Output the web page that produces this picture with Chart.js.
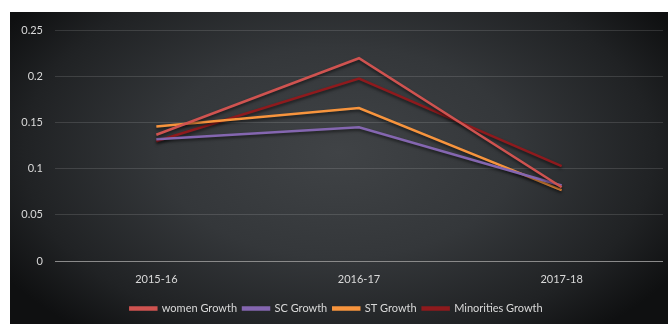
<!DOCTYPE html>
<html>
<head>
<meta charset="utf-8">
<script src="https://cdn.jsdelivr.net/npm/chart.js@4"></script>
<style>
  html, body { margin: 0; padding: 0; background: #fff; }
  #wrap {
    position: absolute; left: 10px; top: 12px; width: 658px; height: 312px;
    background: radial-gradient(ellipse 60% 75% at 50% 45%, #404346 0%, #34373a 45%, #202224 80%, #0f1011 100%);
  }
</style>
</head>
<body>
<div id="wrap"><canvas id="grafico" width="658" height="312"></canvas></div>
<script>
// datos
const periodos = ['2015-16', '2016-17', '2017-18'];
const mujeres = [0.137, 0.220, 0.080];
const sc = [0.132, 0.145, 0.082];
const st = [0.146, 0.166, 0.077];
const minorias = [0.130, 0.198, 0.103];

// sombra suave bajo las lineas
const sombra = {
  id: 'sombra',
  beforeDatasetsDraw(chart) {
    const ctx = chart.ctx;
    ctx.save();
    ctx.shadowColor = 'rgba(0,0,0,0.55)';
    ctx.shadowBlur = 3;
    ctx.shadowOffsetY = 2;
  },
  afterDatasetsDraw(chart) {
    chart.ctx.restore();
  }
};

function serie(label, data, color) {
  return {
    label: label,
    data: data,
    borderColor: color,
    backgroundColor: color,
    borderWidth: 2.5,
    pointRadius: 0,
    tension: 0
  };
}

new Chart(document.getElementById('grafico'), {
  type: 'line',
  data: {
    labels: periodos,
    datasets: [
      serie('women Growth', mujeres, '#cf5350'),
      serie('SC Growth', sc, '#8466b0'),
      serie('ST Growth', st, '#f7943d'),
      serie('Minorities Growth', minorias, '#8e1a1d')
    ]
  },
  options: {
    responsive: false,
    animation: false,
    layout: { padding: { top: 15, right: 5, left: 0, bottom: 0 } },
    plugins: {
      legend: {
        position: 'bottom',
        labels: {
          color: '#d9d9d9',
          font: { family: 'Lato', size: 11 },
          boxWidth: 26,
          boxHeight: 2,
          padding: 6
        }
      },
      tooltip: { enabled: false }
    },
    scales: {
      x: {
        offset: true,
        afterFit(scale) { scale.height = 36; },
        grid: { display: false, drawTicks: false },
        border: { display: false },
        ticks: { color: '#d9d9d9', font: { family: 'Lato', size: 11 }, padding: 12 }
      },
      y: {
        min: 0,
        max: 0.25,
        afterFit(scale) { scale.width = 45; },
        grid: {
          color: ctx => ctx.tick.value === 0 ? '#8a8a8a' : 'rgba(255,255,255,0.13)',
          lineWidth: 1,
          drawTicks: false
        },
        border: { display: false },
        ticks: {
          stepSize: 0.05,
          color: '#d9d9d9',
          font: { family: 'Lato', size: 11 },
          padding: 12,
          callback: v => String(Math.round(v * 100) / 100)
        }
      }
    }
  },
  plugins: [sombra]
});
</script>
</body>
</html>
